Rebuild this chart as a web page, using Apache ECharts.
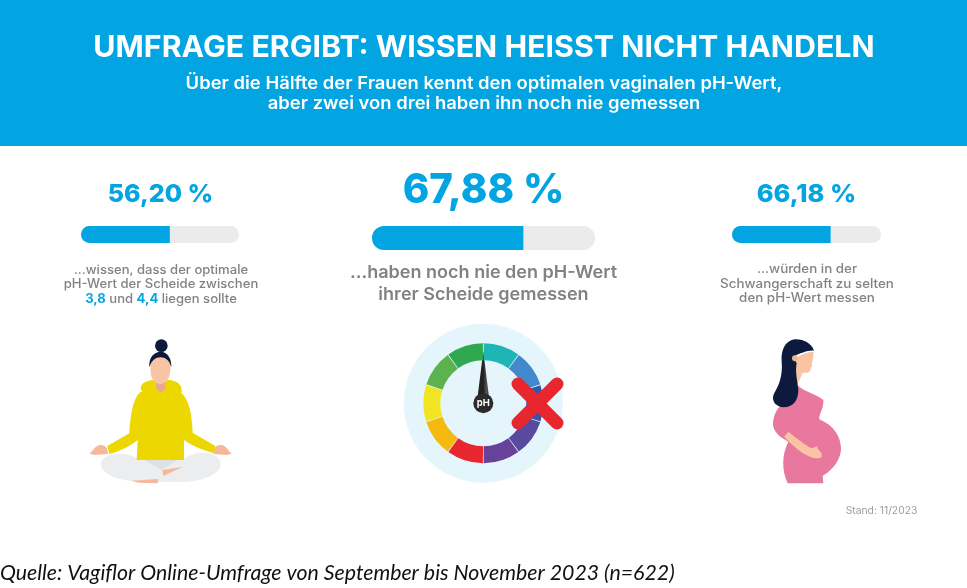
<!DOCTYPE html>
<html lang="de">
<head>
<meta charset="utf-8">
<title>Umfrage pH-Wert</title>
<style>
  html, body { margin: 0; padding: 0; background: #fff; }
  #chart { width: 967px; height: 588px; }
</style>
<script src="https://cdn.jsdelivr.net/npm/echarts@6/dist/echarts.min.js"></script>
</head>
<body>
<div id="chart"></div>
<script>
// Werte aus der Grafik
const surveyValues = [56.20, 67.88, 66.18];
const phSegments = [1, 1, 1, 1, 1, 1, 1, 1, 1, 1];
const needleValue = [0];

// Farben
const BLUE = '#02a5e1';
const GREY = '#808285';
const phColors = ['#1fb4b6', '#4289cb', '#3b55a5', '#5a4a9f', '#67429a', '#e8262e', '#f6b90f', '#f0e423', '#5cb24e', '#2fa84f'];
const FONT = 'Inter';

const formatPercent = (v) => v.toFixed(2).replace('.', ',') + ' %';

// Balken: [left, top, width, height]
const barBoxes = [
  [81, 226, 158, 17],
  [372, 226, 223, 24],
  [732, 226, 149, 17]
];

// Illustrationen (Koordinaten im 3x-Ausschnitt)
const yogaShapes = [
  ['#ebedef', 'M93 398C100 370 160 362 203 385L342 385C380 362 442 360 452 398C455 430 400 456 330 456L215 456C150 452 90 435 93 398Z'],
  ['#dfe1e3', 'M225 390L322 390L275 420Z'],
  ['#f6b89a', 'M277 420L337 411L280 438Z'],
  ['#f6b89a', 'M185 452L265 447L263 460L205 458Z'],
  ['#f6b89a', 'M58 370C70 364 72 350 88 345C104 343 114 352 114 372L72 375Z'],
  ['#f6b89a', 'M486 370C474 364 472 350 456 345C440 343 430 352 430 372L472 375Z'],
  ['#ecd800', 'M212 186C188 205 182 255 178 310L112 348L118 372C150 365 185 345 203 330L200 390L342 390L342 330C370 350 400 360 432 370L436 348L368 308C366 260 360 210 332 186Z'],
  ['#ecd800', 'M212 175C212 155 240 150 255 150L295 150C320 150 338 165 335 185C330 198 300 200 272 196C240 205 215 195 212 175Z'],
  ['#e8a98c', 'M258 150L288 150L285 178L272 188L258 175Z'],
  ['#f9c4a4', 'M240 92C240 72 304 72 303 92L300 130C295 155 282 162 271 162C256 162 245 150 242 130Z'],
  ['#0d1a3e', 'M238 112C235 80 255 65 272 65C292 65 305 85 304 112C298 90 285 82 272 82C255 82 245 92 238 112Z'],
  ['#0d1a3e', 'M255 47A19 19 0 1 0 293 47A19 19 0 1 0 255 47Z']
];
const pregnantShapes = [
  ['#e9789f', 'M172 165C190 185 235 195 250 210C252 235 235 255 238 268C280 285 303 320 303 355C303 395 270 425 248 438L250 460L143 460C125 420 125 375 145 335L128 325C105 310 95 290 100 270C105 245 115 232 125 225Z'],
  ['#f9c4a4', 'M133 320L145 305C170 325 195 345 215 355L235 348C228 355 232 352 245 370L245 380C240 388 225 385 210 380C185 370 155 345 133 320Z'],
  ['#f9c4a4', 'M165 85C180 75 205 65 221 65C220 80 218 95 215 100L217 108L212 113C212 122 208 130 195 128L188 128L172 165C170 150 165 125 168 105Z'],
  ['#0d1a3e', 'M222 62C215 40 190 27 165 28C135 32 123 60 125 95C128 130 120 160 105 185C92 205 100 228 130 232C160 232 175 210 175 180C172 150 165 125 170 100L160 80C180 70 205 60 222 62Z'],
  ['#f0b595', 'M156 85A9 9 0 1 0 174 85A9 9 0 1 0 156 85Z']
];
const figures = [
  { x: 70, y: 330, shapes: yogaShapes },
  { x: 740, y: 330, shapes: pregnantShapes }
];

// Die Originalschrift laeuft breiter als Inter, deshalb scaleX
function textEl(text, x, y, size, color, weight, scaleX, extra, z) {
  return {
    type: 'text',
    x: x,
    y: y,
    z: z || 5,
    scaleX: scaleX || 1,
    style: Object.assign({
      text: text,
      fill: color,
      font: `${weight} ${size}px ${FONT}`,
      align: 'center',
      verticalAlign: 'middle'
    }, extra || {})
  };
}

const option = {
  animation: false,
  backgroundColor: '#fff',
  grid: barBoxes.map((b) => ({ left: b[0], top: b[1], width: b[2], height: b[3] })),
  xAxis: barBoxes.map((b, i) => ({ type: 'value', min: 0, max: 100, show: false, gridIndex: i })),
  yAxis: barBoxes.map((b, i) => ({ type: 'category', data: ['Anteil'], show: false, gridIndex: i })),
  graphic: [
    { type: 'rect', z: 0, shape: { x: 0, y: 0, width: 967, height: 146 }, style: { fill: BLUE } },
    textEl('UMFRAGE ERGIBT: WISSEN HEISST NICHT HANDELN', 484, 48, 30, '#fff', 700, 1.012),
    textEl('Über die Hälfte der Frauen kennt den optimalen vaginalen pH-Wert,', 484, 84, 17.5, '#fff', 600, 1.053),
    textEl('aber zwei von drei haben ihn noch nie gemessen', 484, 104, 17.5, '#fff', 600, 1.053),

    textEl(formatPercent(surveyValues[0]), 160.5, 194, 25, BLUE, 800, 1),
    textEl(formatPercent(surveyValues[1]), 483.5, 191, 41, BLUE, 800, 0.98),
    textEl(formatPercent(surveyValues[2]), 806.5, 194, 25, BLUE, 800, 1.02),

    textEl('...wissen, dass der optimale', 161, 270, 12.5, GREY, 500, 1.046),
    textEl('pH-Wert der Scheide zwischen', 161, 284, 12.5, GREY, 500, 1.046),
    textEl('{b|3,8} und {b|4,4} liegen sollte', 161, 299, 12.5, GREY, 500, 1.046, {
      rich: { b: { fill: BLUE, font: `700 12.5px ${FONT}` } }
    }),
    textEl('...haben noch nie den pH-Wert', 483.5, 273, 17.5, GREY, 600, 1.03),
    textEl('ihrer Scheide gemessen', 483.5, 295, 17.5, GREY, 600, 1.03),
    textEl('...würden in der', 807, 269, 12.5, GREY, 500, 1.07),
    textEl('Schwangerschaft zu selten', 807, 284, 12.5, GREY, 500, 1.07),
    textEl('den pH-Wert messen', 807, 298, 12.5, GREY, 500, 1.07),

    textEl('Stand: 11/2023', 881.5, 511, 10.3, '#9a9da0', 400),
    {
      type: 'text', x: 0, y: 573, z: 5,
      style: {
        text: 'Quelle: Vagiflor Online-Umfrage von September bis November 2023 (n=622)',
        fill: '#111', font: 'italic 400 21.3px Lato', align: 'left', verticalAlign: 'middle'
      }
    },

    // Scheibe hinter dem Messgeraet
    { type: 'circle', z: 0, shape: { cx: 483.3, cy: 403.3, r: 79.5 }, style: { fill: '#e5f5fc' } },
    // Nabe mit pH
    { type: 'circle', z: 8, shape: { cx: 483.3, cy: 403.3, r: 10 }, style: { fill: '#2b2b2b' } },
    textEl('pH', 483.3, 403.6, 9.5, '#fff', 700, 1, null, 9),
    // rotes Kreuz
    { type: 'line', z: 10, shape: { x1: 518, y1: 384, x2: 557, y2: 423 }, style: { stroke: '#e8262e', lineWidth: 13, lineCap: 'round' } },
    { type: 'line', z: 10, shape: { x1: 557, y1: 384, x2: 518, y2: 423 }, style: { stroke: '#e8262e', lineWidth: 13, lineCap: 'round' } }
  ],
  series: [
    ...surveyValues.map((v, i) => ({
      type: 'bar',
      xAxisIndex: i,
      yAxisIndex: i,
      data: [v],
      barWidth: '100%',
      silent: true,
      showBackground: true,
      backgroundStyle: { color: '#ebebeb', borderRadius: barBoxes[i][3] / 2 },
      itemStyle: { color: BLUE, borderRadius: [barBoxes[i][3] / 2, 0, 0, barBoxes[i][3] / 2] }
    })),
    {
      type: 'pie',
      center: [483.3, 403.3],
      radius: [43, 60],
      startAngle: 90,
      padAngle: 0.8,
      silent: true,
      label: { show: false },
      labelLine: { show: false },
      data: phSegments.map((v, i) => ({ value: v, itemStyle: { color: phColors[i] } }))
    },
    {
      type: 'gauge',
      center: [483.3, 403.3],
      radius: 34,
      startAngle: 90,
      endAngle: -270,
      min: 0,
      max: 10,
      splitNumber: 10,
      silent: true,
      axisLine: { lineStyle: { width: 1, color: [[1, '#eef2f3']] } },
      axisTick: { show: false },
      splitLine: { length: 4, distance: -4, lineStyle: { color: '#eef2f3', width: 1 } },
      axisLabel: { show: false },
      pointer: {
        icon: 'path://M5 0L10 100L0 100Z',
        length: 52,
        width: 13,
        itemStyle: {
          color: {
            type: 'linear', x: 0, y: 0, x2: 1, y2: 0,
            colorStops: [
              { offset: 0, color: '#222' },
              { offset: 0.5, color: '#222' },
              { offset: 0.75, color: '#555' },
              { offset: 1, color: '#333' }
            ]
          }
        }
      },
      anchor: { show: false },
      title: { show: false },
      detail: { show: false },
      data: needleValue.map((v) => ({ value: v }))
    },
    {
      type: 'custom',
      coordinateSystem: 'none',
      silent: true,
      data: figures.map((f, i) => i),
      renderItem: (params) => {
        const f = figures[params.dataIndex];
        return {
          type: 'group',
          x: f.x,
          y: f.y,
          scaleX: 1 / 3,
          scaleY: 1 / 3,
          children: f.shapes.map((s) => ({
            type: 'path',
            shape: { pathData: s[1] },
            style: { fill: s[0] }
          }))
        };
      }
    }
  ]
};

const chart = echarts.init(document.getElementById('chart'));
chart.setOption(option);

window.addEventListener('resize', function () {
  chart.resize();
});
</script>
</body>
</html>
